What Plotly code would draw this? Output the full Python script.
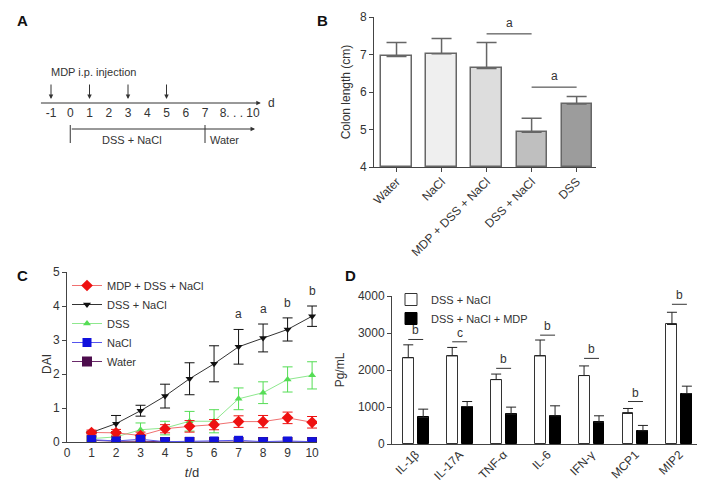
import plotly.graph_objects as go

INK = "#333333"
AXIS = "#444444"
FONT = "Liberation Sans"

# ---- panel A: protocol timeline ----
timeline_days = [-1, 0, 1, 2, 3, 4, 5, 6, 7]
injection_days = [-1, 1, 3, 5]
phase_names = ["DSS + NaCl", "Water"]
phase_start = [0, 7]
phase_end = [7, 10]

# ---- panel B: colon length ----
groups_b = ["Water", "NaCl", "MDP + DSS + NaCl", "DSS + NaCl", "DSS"]
colon_length = [6.95, 7.02, 6.63, 4.93, 5.68]
colon_err = [0.37, 0.41, 0.69, 0.37, 0.20]
colors_b = ["#ffffff", "#efefef", "#dddddd", "#bfbfbf", "#9c9c9c"]
sig_b_from = [2, 3]
sig_b_to = [3, 4]
sig_b_y = [7.55, 6.13]
sig_b_text = ["a", "a"]

# ---- panel C: DAI over time ----
days = [1, 2, 3, 4, 5, 6, 7, 8, 9, 10]
dai_mdp = [0.28, 0.27, 0.19, 0.39, 0.46, 0.51, 0.60, 0.60, 0.71, 0.58]
dai_mdp_err = [0.07, 0.10, 0.10, 0.12, 0.17, 0.15, 0.17, 0.18, 0.17, 0.17]
dai_dss_nacl = [0.28, 0.54, 0.92, 1.35, 1.86, 2.30, 2.80, 3.06, 3.31, 3.70]
dai_dss_nacl_err = [0.03, 0.24, 0.16, 0.35, 0.47, 0.53, 0.51, 0.41, 0.34, 0.30]
dai_dss = [0.10, 0.15, 0.36, 0.41, 0.61, 0.61, 1.27, 1.45, 1.84, 1.96]
dai_dss_err = [0.05, 0.05, 0.20, 0.20, 0.29, 0.34, 0.32, 0.32, 0.37, 0.40]
dai_nacl = [0.07, 0.03, 0.08, 0.01, 0.02, 0.03, 0.05, 0.01, 0.03, 0.01]
dai_water = [0.05, 0.02, 0.02, 0.0, 0.0, 0.0, 0.0, 0.0, 0.0, 0.0]
sig_c_days = [7, 8, 9, 10]
sig_c_text = ["a", "a", "b", "b"]

# ---- panel D: cytokines ----
cytokines = ["IL-1β", "IL-17A", "TNF-α", "IL-6", "IFN-γ", "MCP1", "MIP2"]
cyt_dss_nacl = [2330, 2380, 1740, 2380, 1850, 825, 3230]
cyt_dss_nacl_err = [350, 230, 150, 430, 260, 135, 330]
cyt_mdp = [717, 1013, 807, 762, 592, 359, 1363]
cyt_mdp_err = [225, 135, 190, 270, 170, 143, 200]
sig_d_y = [2825, 2762, 2045, 2942, 2314, 1148, 3776]
sig_d_text = ["b", "c", "b", "b", "b", "b", "b"]

# the page body has an 8px margin, so the figure is drawn 8px in from the corner
PAD = 8
W, H = 713 - PAD, 487 - PAD


def px_x(p):
    return (p - PAD) / W


def px_y(p):
    return 1 - (p - PAD) / H


fig = go.Figure()
ann = []

# ======== panel B ========
idx_b = list(range(len(groups_b)))
fig.add_trace(go.Bar(
    x=idx_b, y=[v - 4 for v in colon_length], base=4, width=0.67,
    marker=dict(color=colors_b, line=dict(color="#666666", width=1.5)),
    error_y=dict(type="data", array=colon_err, arrayminus=[0] * 5, symmetric=False,
                 color="#666666", thickness=1.5, width=10),
    xaxis="x", yaxis="y", showlegend=False))
for a, b, yv, t in zip(sig_b_from, sig_b_to, sig_b_y, sig_b_text):
    fig.add_trace(go.Scatter(x=[a, b], y=[yv, yv], mode="lines",
                             line=dict(color=INK, width=1), xaxis="x", yaxis="y",
                             showlegend=False))
    ann.append(dict(x=(a + b) / 2, y=yv, xref="x", yref="y", text=t, showarrow=False,
                    yanchor="bottom", yshift=2, font=dict(size=12, color=INK)))

# ======== panel C ========
c_series = [
    ("Water", dai_water, None, "#4d0d4d", "square", 10, 5),
    ("DSS", dai_dss, dai_dss_err, "#55dd55", "triangle-up", 7, 3),
    ("DSS + NaCl", dai_dss_nacl, dai_dss_nacl_err, "#111111", "triangle-down", 7, 2),
    ("MDP + DSS + NaCl", dai_mdp, dai_mdp_err, "#ee1111", "diamond", 9, 1),
    ("NaCl", dai_nacl, None, "#1111dd", "square", 9, 4),
]
line_cols = {"Water": "#6a2a6a", "DSS": "#8ee88e", "DSS + NaCl": "#333333",
             "MDP + DSS + NaCl": "#f07070", "NaCl": "#5555ee"}
for name, vals, err, col, sym, size, rank in c_series:
    fig.add_trace(go.Scatter(
        x=days, y=vals, name=name, mode="lines+markers",
        line=dict(color=line_cols[name], width=1),
        marker=dict(color=col, symbol=sym, size=size),
        error_y=None if err is None else dict(type="data", array=err, color=col,
                                              thickness=1, width=5),
        xaxis="x2", yaxis="y2", legend="legend", legendrank=rank))
for d, t in zip(sig_c_days, sig_c_text):
    i = days.index(d)
    ann.append(dict(x=d, y=dai_dss_nacl[i] + dai_dss_nacl_err[i], xref="x2", yref="y2",
                    text=t, showarrow=False, yanchor="bottom", yshift=6,
                    font=dict(size=12, color=INK)))
ann.append(dict(x=px_x(38), y=px_y(376), xref="paper", yref="paper", text="DAI",
                textangle=-90, showarrow=False, font=dict(size=12, color=INK)))

# ======== panel D ========
idx_d = list(range(len(cytokines)))
fig.add_trace(go.Bar(
    x=idx_d, y=cyt_dss_nacl, name="DSS + NaCl", width=0.25, offset=-0.295,
    marker=dict(color="white", line=dict(color="#333333", width=1)),
    error_y=dict(type="data", array=cyt_dss_nacl_err, arrayminus=[0] * 7, symmetric=False,
                 color="#222222", thickness=1, width=5),
    xaxis="x3", yaxis="y3", legend="legend2"))
fig.add_trace(go.Bar(
    x=idx_d, y=cyt_mdp, name="DSS + NaCl + MDP", width=0.25, offset=0.045,
    marker=dict(color="black", line=dict(color="#000000", width=1)),
    error_y=dict(type="data", array=cyt_mdp_err, arrayminus=[0] * 7, symmetric=False,
                 color="#222222", thickness=1, width=5),
    xaxis="x3", yaxis="y3", legend="legend2"))
for i, (yv, t) in enumerate(zip(sig_d_y, sig_d_text)):
    fig.add_trace(go.Scatter(x=[i - 0.17, i + 0.17], y=[yv, yv], mode="lines",
                             line=dict(color=INK, width=1), xaxis="x3", yaxis="y3",
                             showlegend=False))
    ann.append(dict(x=i, y=yv, xref="x3", yref="y3", text=t, showarrow=False,
                    yanchor="bottom", yshift=0, font=dict(size=12, color=INK)))

# ======== panel A (schematic) ========
def pos(d):
    # days after 8 are drawn compressed ("8 . . . 10")
    return d if d <= 8 else 8 + (d - 8) * 0.8


arrow = dict(xref="x4", yref="y4", axref="x4", ayref="y4", showarrow=True, text="",
             arrowhead=2, arrowsize=0.9, arrowwidth=1, arrowcolor=INK)
ann.append(dict(arrow, x=pos(10) + 0.3, y=103, ax=-1.6, ay=103))
for d in injection_days:
    ann.append(dict(arrow, x=d, y=99, ax=d, ay=83))
ann.append(dict(x=pos(10) + 0.55, y=103, xref="x4", yref="y4", text="d", showarrow=False,
                xanchor="left", font=dict(size=12, color=INK)))
ann.append(dict(x=injection_days[0] - 0.1, y=72, xref="x4", yref="y4",
                text="MDP i.p. injection", showarrow=False, xanchor="left",
                font=dict(size=11, color=INK)))
fig.add_trace(go.Scatter(
    x=timeline_days + [(pos(8) + pos(10)) / 2], y=[114] * (len(timeline_days) + 1),
    text=[str(d) for d in timeline_days] + ["8. . . 10"], mode="text",
    textfont=dict(size=12, color=INK), xaxis="x4", yaxis="y4", showlegend=False))
ann.append(dict(arrow, x=pos(phase_end[-1]), y=129, ax=pos(phase_start[0]), ay=129))
for name, s, e in zip(phase_names, phase_start, phase_end):
    fig.add_trace(go.Scatter(x=[pos(s), pos(s)], y=[125, 143], mode="lines",
                             line=dict(color=INK, width=1), xaxis="x4", yaxis="y4",
                             showlegend=False))
    ann.append(dict(x=(pos(s) + pos(e)) / 2 - 0.3, y=140, xref="x4", yref="y4", text=name,
                    showarrow=False, font=dict(size=11, color=INK)))

# panel letters
for letter, lx, ly in [("A", 22, 20), ("B", 322, 20), ("C", 22, 275), ("D", 350, 275)]:
    ann.append(dict(x=px_x(lx), y=px_y(ly), xref="paper", yref="paper", text="<b>%s</b>" % letter,
                    showarrow=False, xanchor="center", yanchor="middle",
                    font=dict(size=15, color="#111111", family=FONT)))

ax_common = dict(showline=True, linecolor=AXIS, linewidth=1, showgrid=False, zeroline=False,
                 tickfont=dict(size=12, color=INK), tickcolor=AXIS, ticklen=4,
                 automargin=False)

# day position of a pixel column in panel A: day -1 sits at x=51, 19.25 px per day
a_left = -1 + (PAD - 51) / 19.25
a_right = -1 + (300 - 51) / 19.25

fig.update_layout(
    width=W, height=H, margin=dict(l=0, r=0, t=0, b=0, autoexpand=False),
    paper_bgcolor="white", plot_bgcolor="white",
    font=dict(family=FONT, color=INK, size=12),
    annotations=ann,
    # B
    xaxis=dict(ax_common, domain=[px_x(374), px_x(596)], range=[-0.5, 4.43],
               tickvals=idx_b, ticktext=groups_b, tickangle=-45, ticks="outside",
               ticklabelstandoff=-2, anchor="y"),
    yaxis=dict(ax_common, domain=[px_y(167), px_y(17)], range=[4, 8], dtick=1,
               ticks="outside", anchor="x",
               title=dict(text="Colon length (cm)", font=dict(size=12), standoff=6)),
    # C
    xaxis2=dict(ax_common, domain=[px_x(67), px_x(317)], range=[0, 10.2], dtick=1,
                ticks="", anchor="y2",
                title=dict(text="<i>t</i>/d", font=dict(size=13), standoff=8)),
    yaxis2=dict(ax_common, domain=[px_y(442), px_y(272)], range=[0, 5], dtick=1,
                ticks="outside", anchor="x2"),
    # D
    xaxis3=dict(ax_common, domain=[px_x(392), px_x(697)], range=[-0.54, 6.4],
                tickvals=idx_d, ticktext=cytokines, tickangle=-45, ticks="",
                ticklabelstandoff=-2, anchor="y3"),
    yaxis3=dict(ax_common, domain=[px_y(444), px_y(296)], range=[0, 4000], dtick=1000,
                ticks="outside", anchor="x3",
                title=dict(text="Pg/mL", font=dict(size=12), standoff=10)),
    # A
    xaxis4=dict(domain=[0, px_x(300)], range=[a_left, a_right], visible=False, anchor="y4"),
    yaxis4=dict(domain=[px_y(230), 1], range=[230, PAD], visible=False, anchor="x4"),
    legend=dict(x=px_x(67), y=px_y(271), xanchor="left", yanchor="top",
                bgcolor="rgba(0,0,0,0)", font=dict(size=11, color=INK),
                tracegroupgap=0, itemwidth=30),
    legend2=dict(x=px_x(391), y=px_y(285), xanchor="left", yanchor="top",
                 bgcolor="rgba(0,0,0,0)", font=dict(size=11, color=INK),
                 tracegroupgap=0, itemwidth=30),
    bargap=0,
)

fig.write_html("out.html")
